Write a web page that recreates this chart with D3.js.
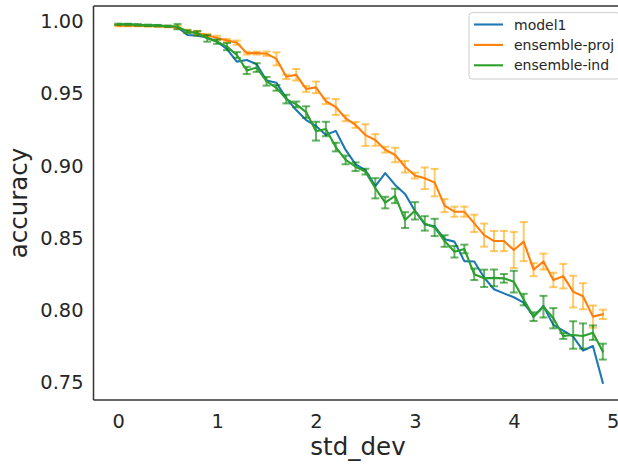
<!DOCTYPE html>
<html>
<head>
<meta charset="utf-8">
<script src="https://cdn.jsdelivr.net/npm/d3@7"></script>
<style>
  html, body { margin: 0; padding: 0; background: #fff; }
  svg { display: block; font-family: "DejaVu Sans", sans-serif; }
</style>
</head>
<body>
<svg id="chart" width="618" height="464"></svg>
<script>
// ---- data ----
const stdDev = [0.0,0.1,0.2,0.3,0.4,0.5,0.6,0.7,0.8,0.9,
                1.0,1.1,1.2,1.3,1.4,1.5,1.6,1.7,1.8,1.9,
                2.0,2.1,2.2,2.3,2.4,2.5,2.6,2.7,2.8,2.9,
                3.0,3.1,3.2,3.3,3.4,3.5,3.6,3.7,3.8,3.9,
                4.0,4.1,4.2,4.3,4.4,4.5,4.6,4.7,4.8,4.9];

const model1 = [0.9977,0.9980,0.9975,0.9972,0.9970,0.9966,0.9960,0.9905,0.9901,0.9889,
                0.9859,0.9808,0.9721,0.9732,0.9703,0.9590,0.9575,0.9467,0.9386,0.9317,
                0.9276,0.9213,0.9242,0.9110,0.9010,0.8970,0.8860,0.8950,0.8868,0.8806,
                0.8690,0.8595,0.8582,0.8493,0.8476,0.8341,0.8338,0.8228,0.8146,0.8118,
                0.8091,0.8054,0.7957,0.8031,0.7900,0.7860,0.7819,0.7722,0.7754,0.7500];

const ensembleProj = [0.9970,0.9970,0.9970,0.9968,0.9966,0.9963,0.9958,0.9932,0.9919,0.9903,
                      0.9885,0.9868,0.9852,0.9780,0.9780,0.9776,0.9740,0.9616,0.9630,0.9532,
                      0.9543,0.9447,0.9407,0.9329,0.9283,0.9213,0.9179,0.9112,0.9075,0.8994,
                      0.8933,0.8914,0.8884,0.8725,0.8683,0.8683,0.8602,0.8521,0.8480,0.8480,
                      0.8418,0.8476,0.8282,0.8338,0.8211,0.8237,0.8130,0.8098,0.7957,0.7973];
const ensembleProjErr = [0.0005,0.0005,0.0005,0.0005,0.0005,0.0005,0.001,0.001,0.0015,0.001,
                         0.0015,0.001,0.0015,0.001,0.001,0.0015,0.0045,0.0015,0.004,0.002,
                         0.004,0.002,0.0055,0.002,0.002,0.0075,0.004,0.002,0.005,0.004,
                         0.002,0.0075,0.0095,0.0045,0.0035,0.0035,0.006,0.008,0.007,0.007,
                         0.0125,0.0135,0.0045,0.0055,0.005,0.0085,0.011,0.009,0.0077,0.0032];

const ensembleInd = [0.9979,0.9978,0.9975,0.9972,0.9970,0.9966,0.9963,0.9928,0.9917,0.9882,
                     0.9859,0.9825,0.9767,0.9660,0.9680,0.9585,0.9540,0.9462,0.9425,0.9372,
                     0.9240,0.9255,0.9130,0.9041,0.8994,0.8960,0.8845,0.8746,0.8792,0.8625,
                     0.8689,0.8602,0.8574,0.8480,0.8406,0.8425,0.8250,0.8222,0.8225,0.8222,
                     0.8199,0.8075,0.7957,0.8026,0.7946,0.7823,0.7830,0.7823,0.7846,0.7715];
const ensembleIndErr = [0.0005,0.0005,0.0005,0.0005,0.0005,0.0005,0.0018,0.001,0.0015,0.0023,
                        0.0015,0.0025,0.002,0.0025,0.003,0.003,0.002,0.003,0.002,0.004,
                        0.0065,0.005,0.003,0.003,0.003,0.002,0.007,0.004,0.005,0.0055,
                        0.006,0.005,0.006,0.004,0.004,0.003,0.004,0.006,0.0058,0.003,
                        0.0075,0.004,0.003,0.0075,0.007,0.002,0.0095,0.0087,0.005,0.0055];

const xTicks = [0,1,2,3,4,5];
const yTicks = [0.75,0.80,0.85,0.90,0.95,1.00];

const seriesNames = ["model1","ensemble-proj","ensemble-ind"];
const seriesColors = ["#1f77b4","#ff7f0e","#2ca02c"];
const errColors = [null,"#ffa500","#008000"];

// ---- layout ----
const svg = d3.select("#chart");
const frame = {left: 93.5, top: 6, bottom: 400, right: 627};
const x = d3.scaleLinear().domain([0,5]).range([118.2, 612.7]);
const y = d3.scaleLinear().domain([0.75,1.0]).range([382.7, 21.3]);
const textColor = "#262626";

// axes (labels only, seaborn white style)
const xAxis = svg.append("g").attr("transform", `translate(0,${frame.bottom})`)
  .call(d3.axisBottom(x).tickValues(xTicks).tickSize(0).tickPadding(14.5).tickFormat(d3.format("d")));
const yAxis = svg.append("g").attr("transform", `translate(${frame.left},0)`)
  .call(d3.axisLeft(y).tickValues(yTicks).tickSize(0).tickPadding(10).tickFormat(d3.format(".2f")));
[xAxis, yAxis].forEach(g => {
  g.select(".domain").remove();
  g.selectAll("text").attr("fill", textColor).style("font-size", "19.4px")
    .style("font-family", "'DejaVu Sans', sans-serif");
});

// series
const line = d3.line().x((d,i) => x(stdDev[i])).y(d => y(d));
const series = [
  {values: model1, err: null},
  {values: ensembleProj, err: ensembleProjErr},
  {values: ensembleInd, err: ensembleIndErr}
];
const plot = svg.append("g");
series.forEach((s, k) => {
  const col = seriesColors[k];
  if (s.err) {
    const eb = plot.append("g").attr("stroke", errColors[k]).attr("stroke-opacity", 0.6)
      .attr("stroke-width", 2).attr("fill", "none");
    s.values.forEach((v, i) => {
      const cx = x(stdDev[i]);
      const y0 = y(v - s.err[i]), y1 = y(v + s.err[i]);
      eb.append("line").attr("x1", cx).attr("x2", cx).attr("y1", y0).attr("y2", y1);
      eb.append("line").attr("x1", cx - 4).attr("x2", cx + 4).attr("y1", y0).attr("y2", y0);
      eb.append("line").attr("x1", cx - 4).attr("x2", cx + 4).attr("y1", y1).attr("y2", y1);
    });
  }
  plot.append("path").datum(s.values).attr("d", line)
    .attr("fill", "none").attr("stroke", col).attr("stroke-width", 2.1)
    .attr("stroke-linejoin", "round").attr("stroke-linecap", "square");
});

// spines
const sp = svg.append("g").attr("stroke", "#333333").attr("stroke-width", 1.5);
sp.append("line").attr("x1", frame.left).attr("x2", frame.left).attr("y1", frame.top).attr("y2", frame.bottom);
sp.append("line").attr("x1", frame.left).attr("x2", frame.right).attr("y1", frame.top).attr("y2", frame.top);
sp.append("line").attr("x1", frame.left).attr("x2", frame.right).attr("y1", frame.bottom).attr("y2", frame.bottom);

// axis labels
svg.append("text").attr("x", 358).attr("y", 455).attr("text-anchor", "middle")
  .attr("fill", textColor).style("font-size", "24.5px").text("std_dev");
svg.append("text").attr("transform", "translate(27,203) rotate(-90)").attr("text-anchor", "middle")
  .attr("fill", textColor).style("font-size", "24.5px").text("accuracy");

// legend
const lg = svg.append("g");
lg.append("rect").attr("x", 469).attr("y", 12.7).attr("width", 151).attr("height", 66.3)
  .attr("rx", 3).attr("fill", "#fff").attr("fill-opacity", 0.8).attr("stroke", "#cccccc").attr("stroke-width", 1);
seriesNames.forEach((name, k) => {
  const ly = 24.5 + k * 20.4;
  lg.append("line").attr("x1", 474).attr("x2", 503).attr("y1", ly).attr("y2", ly)
    .attr("stroke", seriesColors[k]).attr("stroke-width", 2.1);
  lg.append("text").attr("x", 514).attr("y", ly + 5).attr("fill", textColor)
    .style("font-size", "14px").text(name);
});
</script>
</body>
</html>
